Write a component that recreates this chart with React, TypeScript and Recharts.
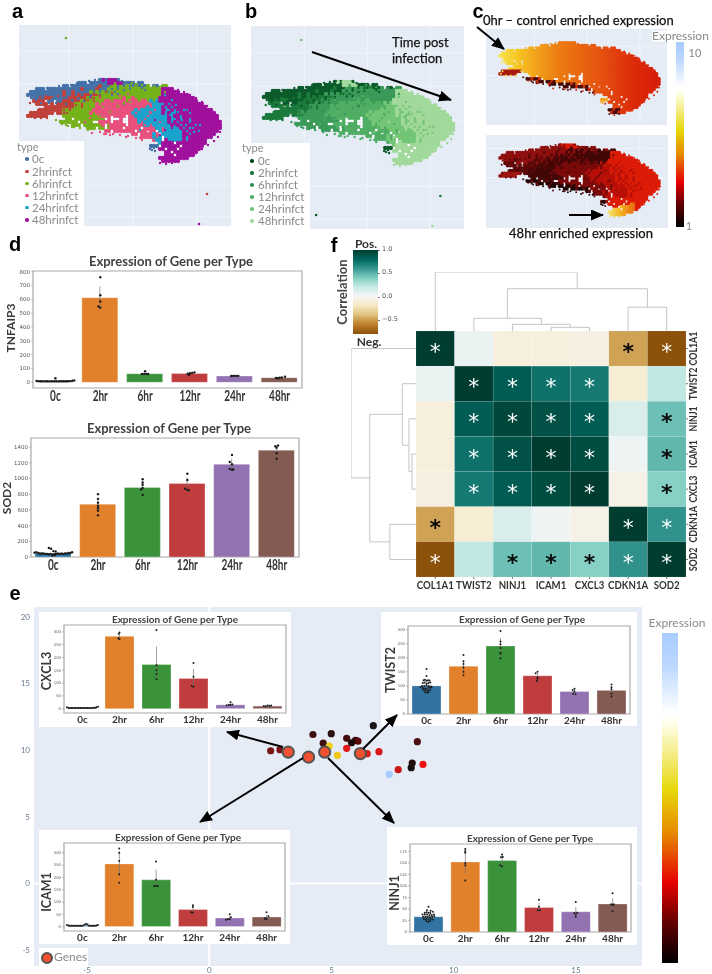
import React from "react";
import {
  ComposedChart, ScatterChart, LineChart, Line, Bar, Cell, Scatter, XAxis, YAxis,
  CartesianGrid, ErrorBar, ReferenceArea, ReferenceLine,
} from "recharts";

/* ---------- UMAP cell map: one letter per small patch of the embedding.
   b 0c, r 2hr, g 6hr, p 12hr, c 24hr, m 48hr, w gap, . empty ---------- */
const cellRows = [
  ".......... .......... ....bmbmmm b......... .......... .......... .....",
  ".......... .......bbb .bbbbbbmmg mmbbbb.bb. .......... .......... .....",
  ".......... ..bb.bbbbb bbbbrbbbgg bgbggbgbbb g.bb.gg... .......... .....",
  "...bbb.bbb bbbbbbbbrb bbbrbbbgbg bgggbggggg gggggmmmm. .......... .....",
  ".bbbbbbbbb bbrbbrbbbb bgbgbgbggb gggggggggg gggggmmmmm m......... .....",
  "bbbbbbbbbb bbrbbrbrbr rbrrggggbg gggggggggg gggggmmmmm mmmm...... .....",
  "..bbbbrrbb bbbbrrrbrr grggrggggg ggpggpgggg ggggmmmmmm mmmmmm.... .....",
  "..rrrr.bb. bbrrrbrrgr ggrgggppgp pppgpppgpp gcgcmmmmmm mmmmmmm... .....",
  "...rrrr.r. rrrrrrggrg gggpgppppp ppbppppppp ppccccmcmm mmmmmmmmm. .....",
  "......rrrr rrrrrrggrg gggppgpppp pppppppppp cpcccmcmcm mmmmmmmmmm .....",
  "....rrrrrr rrggrggggg ggpppppppp ppppppcpcc cccccmccmc mmmcmmmmmm mm...",
  ".rrrrrrrr. rrgrgggggg gpgppppppp pppppcpccc cpcccmcmcc mmmmcmmmmm mmm..",
  "rrrrrrr... ..gggggggg ggggppppwp pppwppcccc pccccccmcm mcmmmmmmmm mmmm.",
  ".......... ...ggwgggg ggggggwpww wpwwpppccp cccccccmcc mcmmcmmmmm mmmm.",
  ".......... .ggggggwgg ggwwppppwp ppwwpppcpc ccccpccmcm cmmmcmmmmm mmmmm",
  ".......... .....gggwg gggggpwppp pppwpppppc cpccccccmc mcmmmmcmmm mmmmm",
  ".......... .......... gggwggwgpp ppwpppppwp pppccpcccc cmcmmcmmmm mmmmm",
  ".......... .......... ......ppwp ppppppwppp wppwcpcccc ccmcmmmcmm mmmm.",
  ".......... .......... .......... .....ppwpp ppcpwccccc ccmmcmmmmm mmm..",
  ".......... .......... .......... ........pp ppcpcwcccc ccmcmmmmmm mm...",
  ".......... .......... .......... .......... ..pccwmccc ccmcmmmmmm .....",
  ".......... .......... .......... .......... ....cmmmmw mmmmmmmmmm .....",
  ".......... .......... .......... .......... .bbbwmmmmm mwmmmmmmm. .....",
  ".......... .......... .......... .......... ....mmwmmm wmmmmmmm.. .....",
  ".......... .......... .......... .......... ......mmwm mmmmmmm... .....",
  ".......... .......... .......... .......... ......mmmw mmmmmm.... .....",
  ".......... .......... .......... .......... ....mmmmmm mmmm...... .....",
  ".......... .......... .......... .......... .....mmmmm m......... .....",
];
const cellU0 = 28, cellV0 = 80, cellStep = 3;
const umapCells = cellRows.flatMap((row, r) =>
  row.replace(/ /g, "").split("").map((k, c) => ({ k, c, r, u: cellU0 + c * cellStep, v: cellV0 + r * cellStep })).filter((d) => d.k !== ".")
);
/* single cells lying off the patch grid, per type */
const stray0 = [[130,86],[136,85],[142,88],[109,92],[118,94],[124,90],[152,150],[154,148],[151,147],[155,151],[153,146],[60,102],[66,104],[72,100],[90,97],[100,95],[78,99],[84,101],[145,90],[150,149],[30,95],[33,92],[37,90],[43,89],[47,88],[53,88],[59,86],[65,86],[71,85],[77,83],[83,82],[89,81],[95,80],[101,79],[31,98],[36,100],[41,103],[49,103],[56,103],[122,81],[128,82]];
const stray2 = [[76,105],[82,104],[88,100],[94,98],[70,108],[64,110],[100,96],[106,92],[40,97],[46,96],[58,96],[52,97],[112,93],[58,112],[64,113],[29,116],[35,118],[41,118],[47,118],[53,113],[31,113],[38,110],[34,102],[30,103],[44,105],[57,110]];
const stray6 = [[124,103],[118,106],[110,112],[100,116],[130,102],[150,96],[140,100],[160,94],[108,125],[92,126],[86,126],[80,128],[62,122],[66,125],[72,127],[110,93],[120,90],[56,120],[165,92],[62,124],[68,126],[74,127],[60,121],[88,130],[136,84],[142,85],[148,86],[154,86],[160,87],[132,83]];
const stray12 = [[112,115],[100,98],[120,96],[144,100],[128,94],[150,105],[155,110],[145,125],[148,130],[150,112],[104,134],[110,135],[140,138],[126,137],[85,122],[90,118],[96,112],[92,133],[100,132],[106,134],[113,134],[120,135],[128,136],[136,138],[142,140]];
const stray24 = [[170,115],[176,105],[182,120],[186,125],[175,135],[190,128],[165,95],[194,132],[150,100],[140,130],[158,105],[178,112],[200,125],[172,100],[184,110]];
const stray48 = [[165,130],[170,118],[180,128],[176,125],[170,142],[185,135],[160,135],[155,120],[165,110],[172,128],[104,80],[108,80],[112,80],[116,81],[166,88],[172,89],[178,90],[184,92],[190,95],[196,98],[202,102],[207,106],[211,110],[215,115],[218,120],[220,126],[220,132],[218,137],[214,141],[208,145],[202,149],[196,153],[190,156],[184,159],[178,161],[172,163],[166,164],[160,163]];
const strayByType = [stray0, stray2, stray6, stray12, stray24, stray48];
const _ = null;
const edgeTop = [_,_,_,_,_,118,119,120,122,123,125,125,126,127,127,128,129,130,131,135,138,145,157,158,157];
const armCols = 10;
const armRows = [11, 12];
const tipTop = [_,_,_,_,_,_,_,_,_,_,_,_,_,_,_,_,_,_,_,_,_,_,156,155,154,152,150,147];
const tipBot = [_,_,_,_,_,_,_,_,_,_,_,_,_,_,_,_,_,_,_,_,_,_,165,166,165,163,160,158];
const spotCells = [[152,143],[152,146],[155,146],[149,149],[152,149]];
const outliers = [[66,38,2],[207,194,1],[81,213,0],[199,224,5]];
const umapTypes = ["0c","2hrinfct","6hrinfct","12hrinfct","24hrinfct","48hrinfct"];
const cellKeys = ["b","r","g","p","c","m"];
const paletteA = ["#4472a8","#c0403a","#75b21a","#e8507c","#1aa3cc","#a0109c"];
const paletteB = ["#0b5a2a","#1a7a3c","#3a9a58","#4fae64","#72c575","#a1d99b"];
const legendB = ["#00441b","#17763a","#2e9150","#4daf62","#72c575","#a1d99b"];
const outlierB = ["#0b5a2a","#17763a","#7fc07f","#4aab60","#72c575","#a1d99b"];
const paletteCLow = ["#8f0f0f","#5a0909","#430707","#7a0a0a","#b81008","#dc1c06"];
const heatTopStops: [number, string][] = [[30,"#f7e24a"],[50,"#f6c422"],[70,"#f2a51c"],[100,"#ec7c12"],[150,"#e55210"],[190,"#dd2a0a"],[225,"#d41c08"]];
const tipStops: [number, string][] = [[160,"#f6e36a"],[175,"#f4b020"],[195,"#ea5a10"]];
const umapGridX = [69,133,197];
const umapGridY = [51,84,118,184,217];

/* ---------- bar charts ---------- */
const categories = ["0c","2hr","6hr","12hr","24hr","48hr"];
const barColors = ["#3274a1","#e1812c","#3a923a","#c03d3e","#9372b2","#845b53"];
const rowOffsets = [-.42,-.38,-.34,-.3,-.26,-.22,-.18,-.14,-.1,-.06,-.02,.02,.06,.1,.14,.18,.22,.26,.3,.34,.38,.42];

const tnfValues = [8,612,62,63,46,33];
const tnfErr = [[1,1],[65,82],[5,8],[5,5],[1,1],[3,3]];
const tnfRow = [10,9,8,8,7,8,8,7,8,7,8,8,7,8,8,8,8,8,9,9,11,13];
const tnfDots = [[0,30],[1,760],[1,630],[1,585],[.96,548],[1,540],[2,80],[1.93,60],[1.98,60],[2.03,60],[2.07,60],[2.98,55],[2.95,62],[3,66],[3.05,68],[3.1,72],[3.92,46],[3.96,47],[4,47],[4.04,47],[4.08,47],[4.92,32],[4.96,30],[5,33],[5.05,35],[5.12,40]];

const sodValues = [45,672,885,935,1180,1360];
const sodErr = [[5,5],[70,70],[50,60],[50,80],[50,70],[50,45]];
const sodRow = [55,60,50,45,45,45,40,40,35,40,30,35,40,45,40,45,40,45,45,50,50,60];
const sodDots = [[-.1,115],[-.05,105],[0,75],[.05,70],[-.02,20],[.04,25],[1,800],[1,740],[1,690],[1,650],[1,620],[1,590],[1,530],[2,990],[2,950],[2,920],[2,880],[1.97,860],[2,790],[3,1060],[3,980],[2.95,870],[3,855],[3.03,850],[4,1300],[3.95,1210],[4,1180],[3.95,1120],[4,1110],[4.03,1115],[5.03,1420],[4.97,1410],[5,1390],[5,1320],[5,1250]];

const cxclValues = [3,283,173,118,15,10];
const cxclErr = [[0,0],[8,8],[55,70],[30,37],[3,4],[1,1]];
const cxclRow = [5,3,3,3,3,3,3,3,3,3,3,3,3,3,3,3,3,3,4,4,5,7];
const cxclDots = [[1,298],[.98,293],[.97,275],[1,272],[2,307],[2,170],[2,150],[2,135],[2,115],[3,178],[3,125],[2.95,90],[3,86],[4,25],[3.96,15],[4,14],[4.05,16],[3.9,13],[4.9,10],[5,12],[5.05,11],[5.1,12],[4.95,9]];

const twistValues = [100,170,242,136,80,84];
const twistErr = [[5,5],[22,22],[28,28],[12,10],[8,8],[10,10]];
const twistDots = [[0,160],[0,135],[-.08,120],[-.04,122],[0,118],[.04,120],[.08,119],[-.1,110],[-.05,112],[0,108],[.05,110],[.1,112],[-.12,100],[-.06,100],[0,102],[.06,100],[.12,98],[-.16,95],[-.1,92],[-.04,90],[.02,92],[.08,93],[.14,95],[-.08,85],[-.02,84],[.04,84],[.1,86],[-.04,77],[.02,76],[.06,78],[1,210],[1,188],[1,178],[1,165],[1,150],[1,138],[2,295],[2,258],[2,248],[2,235],[2,218],[2,215],[2,198],[3,150],[2.95,145],[3,130],[3,125],[2.98,117],[4,90],[3.95,85],[4,80],[3.96,72],[4.03,70],[5,105],[5,95],[5,88],[5,72],[5,62]];

const icamValues = [5,255,190,69,35,39];
const icamErr = [[1,1],[50,50],[25,42],[10,10],[8,8],[8,8]];
const icamRow = [6,4,3,3,3,3,3,3,3,3,3,4,8,10,8,3,3,3,3,3,4,6];
const icamDots = [[1,318],[1,300],[1,267],[1,213],[1,178],[2,265],[2,190],[1.95,165],[2,165],[2.05,165],[3,87],[3,80],[2.95,58],[3,57],[4,50],[4.03,38],[3.95,30],[4,30],[3.9,28],[5,58],[5.05,42],[4.97,35],[5,30],[4.95,32]];

const ninjValues = [33,152,155,53,44,61];
const ninjErr = [[3,3],[25,27],[10,12],[10,10],[10,10],[12,12]];
const ninjDots = [[0,55],[-.04,47],[.06,46],[.12,44],[-.1,42],[-.05,43],[0,42],[.05,41],[-.16,38],[-.1,38],[-.04,38],[.03,37],[.09,37],[.15,38],[-.14,33],[-.08,33],[-.02,33],[.04,32],[.1,33],[.16,34],[-.12,28],[-.06,28],[0,27],[.06,28],[.12,27],[-.06,24],[0,22],[.05,24],[1,180],[1,175],[1,172],[1,150],[1,145],[1,112],[2,168],[1.97,162],[2.02,163],[1.95,145],[2,142],[3,70],[3,55],[2.97,47],[3.03,47],[4,65],[4.04,42],[3.96,41],[4,38],[4,33],[5,84],[4.96,60],[5,58],[5.03,60],[5,45]];

const tick300 = [0,50,100,150,200,250,300];
const tickTnf = [0,100,200,300,400,500,600,700,800];
const tickSod = [0,200,400,600,800,1000,1200,1400];
const tickNinj = [0,25,50,75,100,125,150,175];

/* ---------- correlation heatmap ---------- */
const heatGenes = ["COL1A1","TWIST2","NINJ1","ICAM1","CXCL3","CDKN1A","SOD2"];
const corrRows = [
  [1,.05,-.1,-.1,-.08,-.5,-.8],
  [.05,1,.85,.75,.72,-.13,.22],
  [-.1,.85,.95,.9,.85,.12,.45],
  [-.1,.75,.9,1,.92,.03,.48],
  [-.08,.72,.85,.92,1,-.06,.38],
  [-.5,-.13,.12,.03,-.06,1,.62],
  [-.8,.22,.45,.48,.38,.62,1],
];
const starRows = ["w....bw",".wwww..",".wwww.b",".wwww.b",".wwww.b","b....ww","w.bbbww"];
const brbgStops: [number, string][] = [[-.8,"#8c510a"],[-.6,"#bf812d"],[-.4,"#dfc27d"],[-.2,"#f6e8c3"],[0,"#f5f5f5"],[.2,"#c7eae5"],[.4,"#80cdc1"],[.6,"#35978f"],[.8,"#01665e"],[1,"#003c30"]];
/* dendrogram links: [leaf position, merge distance] */
const dendroLinks = [
  [[3,0],[3,11],[4,11],[4,0]],
  [[2,0],[2,20],[3.5,20],[3.5,11]],
  [[1,0],[1,38],[2.75,38],[2.75,20]],
  [[5,0],[5,71],[6,71],[6,0]],
  [[1.87,38],[1.87,126],[5.5,126],[5.5,71]],
  [[0,0],[0,176],[3.68,176],[3.68,126]],
];
const dendroLeftLinks = [
  [[3,0],[3,12],[4,12],[4,0]],
  [[2,0],[2,21],[3.5,21],[3.5,12]],
  [[1,0],[1,41],[2.75,41],[2.75,21]],
  [[5,0],[5,78],[6,78],[6,0]],
  [[1.87,41],[1.87,138],[5.5,138],[5.5,78]],
  [[0,0],[0,194],[3.68,194],[3.68,138]],
];

/* ---------- gene scatter, panel e ---------- */
const geneBg = [
  [2.51,9.96,"#7a1515"],[2.89,10.04,"#7a1515"],[4.24,11.18,"#3f0f10"],[4.99,11.24,"#2a0d0d"],[4.66,10.53,"#3f1010"],
  [4.91,10.31,"#f0d020"],[5.24,9.61,"#f0c818"],[5.62,10.14,"#e01818"],[5.62,10.89,"#400c0c"],[5.98,10.74,"#2a0808"],
  [6.08,10.68,"#5a0808"],[5.82,10.56,"#1a0a0a"],[6.71,11.84,"#181418"],[6.94,9.89,"#d81818"],[6.46,9.74,"#e01818"],
  [8.51,10.64,"#4a0f10"],[8.74,8.93,"#f01010"],[8.30,9.03,"#250808"],[8.26,8.69,"#181010"],[7.73,8.54,"#c81818"],[7.36,8.18,"#a8ccff"],
];
const geneMarked = [[3.23,9.86],[4.06,9.48],[4.72,9.86],[6.18,9.75]];
const eTicksX = [-5,0,5,10,15];
const eTicksY = [-5,0,5,10,15,20];

const expressionGradient = "linear-gradient(to bottom,#a8ccff 0%,#bcd8ff 10%,#ffffff 24%,#fffff0 27%,#e8d80c 47.5%,#e68a00 60.6%,#e60000 75.8%,#600000 88%,#000000 100%)";

const LATO = "Lato, sans-serif";

function T({ x, y, children, size = 11, color = "#444", weight = 400, family = LATO, rotate = 0, anchor = "middle", bg, stroke }: any) {
  const tx = anchor === "start" ? "0" : "-50%";
  return (
    <div style={{ position: "absolute", left: x, top: y, transform: `translate(${tx},-50%) rotate(${rotate}deg)`, fontSize: size, color, fontWeight: weight, fontFamily: family, whiteSpace: "nowrap", lineHeight: 0.9, background: bg, WebkitTextStroke: stroke }}>
      {children}
    </div>
  );
}

const hit = (color: string, r: number) => (p: any) => <circle cx={p.cx} cy={p.cy} r={r} fill={color} />;
const hex = (s: string) => [1, 3, 5].map((i) => parseInt(s.slice(i, i + 2), 16));
function ramp(stops: [number, string][], v: number) {
  if (v <= stops[0][0]) return stops[0][1];
  for (let i = 0; i < stops.length - 1; i++) {
    const [a, ca] = stops[i], [b, cb] = stops[i + 1];
    if (v <= b) {
      const t = (v - a) / (b - a);
      const A = hex(ca), B = hex(cb);
      return `rgb(${A.map((x, j) => Math.round(x + (B[j] - x) * t)).join(",")})`;
    }
  }
  return stops[stops.length - 1][1];
}

const colIndex = (u: number) => Math.round((u - 28) / 6);
const isEdge = (d: any) => { const e = edgeTop[colIndex(d.u)]; return e != null && d.v >= e; };
const isArm = (d: any) => d.k === "r" && d.c < armCols && armRows.includes(d.r);
const isTip = (d: any) => { const i = colIndex(d.u); return tipTop[i] != null && d.v >= (tipTop[i] as number) && d.v <= (tipBot[i] as number); };
const isSpot = (d: any) => spotCells.some(([u, v]) => Math.abs(u - d.u) < 3 && Math.abs(v - d.v) < 3);

const colorTop = (d: any) => {
  if (d.k === "w") return "#ffffff";
  if (isArm(d)) return "#a81a10";
  if (isSpot(d)) return "#f2a61c";
  if (isEdge(d)) return (d.c + d.r) % 3 === 0 ? "#c83010" : "#4a0c08";
  return ramp(heatTopStops, d.u);
};
const colorLow = (d: any) => {
  if (d.k === "w") return "#ffffff";
  if (isTip(d)) return ramp(tipStops, d.u);
  if (isArm(d)) return "#a01510";
  if (isEdge(d)) return (d.c + d.r) % 3 === 0 ? "#5a0a08" : "#200505";
  return paletteCLow[cellKeys.indexOf(d.k)];
};

function UmapFrame({ left, top, width, height, dx, dy, children }: any) {
  const gridX = umapGridX.filter((v) => v > dx[0] && v < dx[1]);
  const gridY = umapGridY.filter((v) => v > dy[0] && v < dy[1]);
  return (
    <div style={{ position: "absolute", left, top, filter: "blur(0.45px)" }}>
      <ScatterChart width={width} height={height} margin={{ top: 0, right: 0, bottom: 0, left: 0 }} style={{ background: "#e5ecf6" }}>
        <CartesianGrid stroke="#f1f4fb" strokeWidth={1} verticalValues={gridX} horizontalValues={gridY} />
        <XAxis dataKey="u" type="number" domain={dx} hide allowDataOverflow />
        <YAxis dataKey="v" type="number" domain={dy} reversed hide allowDataOverflow />
        {children}
      </ScatterChart>
    </div>
  );
}

function UmapTyped({ palette, outlierColors, ...frame }: any) {
  return (
    <UmapFrame {...frame}>
      {cellKeys.map((k, i) => (
        <Scatter key={k} name={umapTypes[i]} data={umapCells.filter((d) => d.k === k)} isAnimationActive={false} shape={hit(palette[i], 2.15)} />
      ))}
      <Scatter name="gap" data={umapCells.filter((d) => d.k === "w")} isAnimationActive={false} shape={hit("#ffffff", 1.2)} />
      {cellKeys.map((k, i) => (
        <Scatter key={`s${k}`} data={strayByType[i].map(([u, v]) => ({ u, v }))} isAnimationActive={false} shape={hit(palette[i], 1.2)} />
      ))}
      {outliers.map(([u, v, c]) => (
        <Scatter key={`o${u}`} data={[{ u, v }]} isAnimationActive={false} shape={hit(outlierColors[c], 1.3)} />
      ))}
    </UmapFrame>
  );
}

function UmapHeat({ color, ...frame }: any) {
  const pts = umapCells.map((d) => ({ ...d, fill: color(d) }));
  const fringe = strayByType.flatMap((list, i) =>
    list.map(([u, v]) => ({ u, v, k: cellKeys[i], c: u, r: v })).map((d) => ({ ...d, fill: color(d) }))
  );
  return (
    <UmapFrame {...frame}>
      <Scatter data={pts} isAnimationActive={false} shape={(p: any) => <circle cx={p.cx} cy={p.cy} r={p.payload.k === "w" ? 1 : 1.9} fill={p.payload.fill} />} />
      <Scatter data={fringe} isAnimationActive={false} shape={(p: any) => <circle cx={p.cx} cy={p.cy} r={1} fill={p.payload.fill} />} />
    </UmapFrame>
  );
}

function TypeLegend({ x, dotX, ys, typeX, typeY, colors, boxL, boxT, boxW, boxH }: any) {
  return (
    <>
      <div style={{ position: "absolute", left: boxL, top: boxT, width: boxW, height: boxH, background: "#fff" }} />
      <T x={typeX} y={typeY} size={11} color="#8a8a8a" anchor="start">type</T>
      {umapTypes.map((t, i) => (
        <React.Fragment key={t}>
          <div style={{ position: "absolute", left: dotX - 1.8, top: ys[i] - 1.8, width: 3.6, height: 3.6, borderRadius: "50%", background: colors[i] }} />
          <T x={x} y={ys[i]} size={11.5} color="#8a8a8a" anchor="start">{t}</T>
        </React.Fragment>
      ))}
    </>
  );
}

const CondTick = ({ x, y, label, size, weight, sx, fill = "#333" }: any) => (
  <g transform={`translate(${x},${y})`}>
    <text transform={`scale(${sx},1)`} textAnchor="middle" dy=".74em" fontSize={size} fontFamily={LATO} fontWeight={weight} fill={fill}>{label}</text>
  </g>
);

function GeneBars({ rect, box, values, err, row, dots, domain, ticks, tickSize, catSize, catWeight, catSx, catMargin, barW, dotR, title, titleSize, titleX, titleY, gene, geneX, geneY, geneSize, bg }: any) {
  const table = categories.map((cat, i) => ({ cat, value: values[i], err: err[i] }));
  const swarm = [...(row ? row.map((y: number, i: number) => ({ pos: rowOffsets[i], y })) : []), ...dots.map(([x, y]: number[]) => ({ pos: x, y }))];
  return (
    <>
      <div style={{ position: "absolute", left: rect.l, top: rect.t }}>
        <ComposedChart width={rect.r - rect.l} height={rect.b - rect.t} data={table} barCategoryGap="20%" margin={{ top: box.t - rect.t, right: rect.r - box.r, bottom: 0, left: 0 }} style={{ background: bg }}>
          <XAxis xAxisId="cat" dataKey="cat" type="category" interval={0} height={rect.b - box.b} axisLine={false} tickLine={false} tickSize={0} tickMargin={catMargin}
            tick={(p: any) => <CondTick x={p.x} y={p.y} label={p.payload.value} size={catSize} weight={catWeight} sx={catSx} />} />
          <XAxis xAxisId="num" dataKey="pos" type="number" domain={[-.5, 5.5]} hide allowDataOverflow />
          <YAxis type="number" dataKey="y" domain={domain} ticks={ticks} interval={0} allowDataOverflow width={box.l - rect.l} axisLine={false} tickSize={2} tickLine={{ stroke: "#888", strokeWidth: .5 }} tickMargin={1} tick={{ fontSize: tickSize, fontFamily: "'DejaVu Sans', sans-serif", fill: "#555" }} />
          <Bar xAxisId="cat" dataKey="value" barSize={barW} isAnimationActive={false}>
            {table.map((d, i) => <Cell key={i} fill={barColors[i]} stroke="rgba(255,255,255,.3)" strokeWidth={1} />)}
            <ErrorBar dataKey="err" width={0} stroke="#777" strokeWidth={.7} isAnimationActive={false} />
          </Bar>
          <Scatter xAxisId="num" data={swarm} dataKey="y" isAnimationActive={false} shape={hit("#1c1c1c", dotR)} />
          <ReferenceArea xAxisId="num" x1={-.5} x2={5.5} y1={domain[0]} y2={domain[1]} fill="none" stroke="#a8a8a8" strokeWidth={1.2} ifOverflow="visible" />
        </ComposedChart>
      </div>
      <T x={titleX} y={titleY} size={titleSize} weight={700} color="#404040">{title}</T>
      <T x={geneX} y={geneY} size={geneSize} weight={700} color="#3a3a3a" rotate={-90}>{gene}</T>
    </>
  );
}

const heatCells = corrRows.flatMap((r, y) => r.map((c, x) => ({ x, y, c, s: starRows[y][x] })));

function HeatCell(p: any) {
  const w = 38.57, h = 35.2;
  const { cx, cy, payload } = p;
  const s = payload.s;
  return (
    <g>
      <rect x={cx - w / 2} y={cy - h / 2} width={w} height={h} fill={ramp(brbgStops, payload.c)} stroke="rgba(255,255,255,.22)" strokeWidth={.5} />
      {s !== "." && (
        <text x={cx} y={cy + 10.5} textAnchor="middle" fontSize={22} fontWeight={s === "b" ? 700 : 400} fontFamily="'DejaVu Sans', sans-serif" fill={s === "b" ? "#0a0a0a" : "#ffffff"}>*</text>
      )}
    </g>
  );
}

function Heatmap() {
  return (
    <div style={{ position: "absolute", left: 416, top: 331 }}>
      <ScatterChart width={290} height={260} margin={{ top: 0, right: 0, bottom: 0, left: 0 }}>
        <XAxis dataKey="x" type="number" domain={[-.5, 6.5]} ticks={[0,1,2,3,4,5,6]} interval={0} allowDataOverflow height={14} axisLine={false} tickSize={2} tickLine={{ stroke: "#777" }} tickMargin={1}
          tick={(p: any) => <CondTick x={p.x} y={p.y} label={heatGenes[p.payload.value]} size={11.5} weight={700} sx={.84} />} />
        <YAxis dataKey="y" type="number" orientation="right" reversed domain={[-.5, 6.5]} ticks={[0,1,2,3,4,5,6]} interval={0} allowDataOverflow width={20} axisLine={false} tickSize={2} tickLine={{ stroke: "#777" }} tickMargin={5}
          tick={(p: any) => (
            <g transform={`translate(${p.x},${p.y}) rotate(-90)`}>
              <text transform="scale(.8,1)" textAnchor="middle" dy=".36em" fontSize={11} fontFamily={LATO} fontWeight={700} fill="#333">{heatGenes[p.payload.value]}</text>
            </g>
          )} />
        <Scatter data={heatCells} isAnimationActive={false} shape={HeatCell} />
      </ScatterChart>
    </div>
  );
}

function DendroTop() {
  return (
    <div style={{ position: "absolute", left: 416, top: 272 }}>
      <LineChart width={270} height={59} margin={{ top: 0, right: 0, bottom: 0, left: 0 }}>
        <XAxis dataKey="p" type="number" domain={[-.5, 6.5]} hide allowDataOverflow />
        <YAxis type="number" domain={[0, 176]} hide allowDataOverflow />
        {dendroLinks.map((l, i) => (
          <Line key={i} data={l.map(([p, d]) => ({ p, d }))} dataKey="d" stroke="#c4c4c4" strokeWidth={1} dot={false} activeDot={false} type="linear" isAnimationActive={false} />
        ))}
      </LineChart>
    </div>
  );
}

function DendroLeft() {
  return (
    <div style={{ position: "absolute", left: 351, top: 331 }}>
      <LineChart width={65} height={246} margin={{ top: 0, right: 0, bottom: 0, left: 0 }}>
        <XAxis dataKey="d" type="number" domain={[0, 194]} reversed hide allowDataOverflow />
        <YAxis type="number" domain={[-.5, 6.5]} reversed hide allowDataOverflow />
        {dendroLeftLinks.map((l, i) => (
          <Line key={i} data={l.map(([p, d]) => ({ p, d }))} dataKey="p" stroke="#c4c4c4" strokeWidth={1} dot={false} activeDot={false} type="linear" isAnimationActive={false} />
        ))}
      </LineChart>
    </div>
  );
}

function GenePanel() {
  const bgPts = geneBg.map(([x, y, c]) => ({ x, y, c }));
  const marked = geneMarked.map(([x, y]) => ({ x, y }));
  return (
    <div style={{ position: "absolute", left: 0, top: 600 }}>
      <ScatterChart width={642} height={374} margin={{ top: 7, right: 0, bottom: 0, left: 0 }}>
        <rect x={34} y={7} width={608} height={359} fill="#e5ecf6" />
        <CartesianGrid stroke="#ffffff" strokeWidth={1.3} verticalValues={eTicksX} horizontalValues={eTicksY} />
        <XAxis dataKey="x" type="number" domain={[-7.17, 17.7]} ticks={eTicksX} interval={0} allowDataOverflow height={8} axisLine={false} tickLine={false} tickSize={0} tickMargin={1} tick={{ fontSize: 8, fill: "#6a7a90", fontFamily: LATO }} />
        <YAxis dataKey="y" type="number" domain={[-6.2, 20.75]} ticks={eTicksY} interval={0} allowDataOverflow width={34} axisLine={false} tickLine={false} tickSize={0} tickMargin={4} tick={{ fontSize: 8, fill: "#6a7a90", fontFamily: LATO }} />
        <ReferenceLine x={0} stroke="#fff" strokeWidth={2} />
        <ReferenceLine y={0} stroke="#fff" strokeWidth={2} />
        <Scatter data={bgPts} isAnimationActive={false} shape={(p: any) => <circle cx={p.cx} cy={p.cy} r={3.6} fill={p.payload.c} />} />
        <Scatter data={marked} isAnimationActive={false} shape={(p: any) => <circle cx={p.cx} cy={p.cy} r={5.6} fill="#f2512f" stroke="#555" strokeWidth={2} />} />
      </ScatterChart>
    </div>
  );
}

const arrows = [
  [312,52,451,100],[477,27,504,49],[569,215,603,215],
  [283,747,227,732],[303,758,200,822],[328,758,394,823],[363,749,397,715],
];

const insetCommon = { catSize: 10, catWeight: 700, catSx: 1, catMargin: 3, tickSize: 3.8, dotR: 1, title: "Expression of Gene per Type", titleSize: 10, geneSize: 12.5, bg: "#ffffff" };
const paneCommon = { catSize: 15, catWeight: 700, catSx: .67, catMargin: 2, tickSize: 5.5, dotR: 1.2, barW: 36, title: "Expression of Gene per Type", titleSize: 13, geneSize: 12, bg: "transparent" };

export default function App() {
  return (
    <div style={{ position: "absolute", left: 0, top: 0, width: 712, height: 974, overflow: "hidden", background: "#fff", filter: "blur(0.3px)" }}>
      {/* panel a */}
      <UmapTyped left={19} top={25} width={212} height={201} dx={[19, 231]} dy={[25, 226]} palette={paletteA} outlierColors={paletteA} />
      <TypeLegend boxL={0} boxT={141} boxW={84} boxH={86} typeX={17} typeY={147} x={32} dotX={27} ys={[159,171.5,183.5,195.5,207.5,220]} colors={paletteA} />

      {/* panel b */}
      <UmapTyped left={251} top={26} width={213} height={203} dx={[15, 231]} dy={[24, 227]} palette={paletteB} outlierColors={outlierB} />
      <TypeLegend boxL={238} boxT={143} boxW={72} boxH={87} typeX={242} typeY={148} x={258} dotX={252} ys={[161,173,185,197,209,221]} colors={legendB} />

      {/* panel c */}
      <UmapHeat left={486} top={29} width={181} height={96} dx={[11, 229.7]} dy={[63.7, 175.7]} color={colorTop} />
      <UmapHeat left={486} top={135} width={182} height={93} dx={[11, 231]} dy={[68.3, 176.8]} color={colorLow} />
      <div style={{ position: "absolute", left: 676, top: 42, width: 8, height: 185, background: expressionGradient }} />
      <T x={652} y={36} size={12} color="#8a8a8a" anchor="start" bg="#fff">Expression</T>
      <T x={695} y={53} size={11} color="#888">10</T>
      <T x={689} y={226} size={11} color="#888">1</T>

      {/* panel d */}
      <GeneBars {...paneCommon} rect={{ l: 8, t: 265, r: 306, b: 410 }} box={{ l: 33, t: 271, r: 302, b: 388 }} values={tnfValues} err={tnfErr} row={tnfRow} dots={tnfDots} domain={[-41, 805]} ticks={tickTnf} titleX={171} titleY={262} gene="TNFAIP3" geneX={11} geneY={328} />
      <GeneBars {...paneCommon} rect={{ l: 6, t: 432, r: 303, b: 578 }} box={{ l: 31, t: 438, r: 299, b: 557 }} values={sodValues} err={sodErr} row={sodRow} dots={sodDots} domain={[0, 1515]} ticks={tickSod} titleX={169} titleY={429} gene="SOD2" geneX={7} geneY={498} />

      {/* panel f */}
      <DendroTop />
      <DendroLeft />
      <Heatmap />
      <div style={{ position: "absolute", left: 353, top: 250, width: 25, height: 84, background: "linear-gradient(to bottom,#003c30 0%,#01665e 11%,#35978f 22%,#80cdc1 33%,#c7eae5 44%,#f5f5f5 55%,#f6e8c3 66%,#dfc27d 77%,#bf812d 88%,#8c510a 100%)" }} />
      {[["1.0",250],["0.5",273],["0.0",296.7],["\u22120.5",319.7]].map(([t, y]: any) => (
        <React.Fragment key={t}>
          <div style={{ position: "absolute", left: 378, top: y, width: 2, height: 1, background: "#777" }} />
          <T x={382} y={y} size={6.5} color="#555" family="'DejaVu Sans', sans-serif" anchor="start">{t}</T>
        </React.Fragment>
      ))}
      <T x={343} y={292} size={13} weight={700} color="#444" rotate={-90}>Correlation</T>
      <T x={366} y={244} size={12} weight={700} color="#333">Pos.</T>
      <T x={369} y={342} size={12} weight={700} color="#333">Neg.</T>

      {/* panel e */}
      <GenePanel />
      <GeneBars {...insetCommon} rect={{ l: 39, t: 612, r: 291, b: 727 }} box={{ l: 64, t: 625, r: 286, b: 713 }} values={cxclValues} err={cxclErr} row={cxclRow} dots={cxclDots} domain={[-17, 327]} ticks={tick300} barW={29} titleX={175} titleY={619} gene="CXCL3" geneX={47} geneY={671} />
      <GeneBars {...insetCommon} rect={{ l: 381, t: 612, r: 637, b: 726 }} box={{ l: 408, t: 626, r: 630, b: 714 }} values={twistValues} err={twistErr} dots={twistDots} domain={[0, 313]} ticks={tick300} barW={29} titleX={522} titleY={619} gene="TWIST2" geneX={391} geneY={670} />
      <GeneBars {...insetCommon} rect={{ l: 39, t: 830, r: 290, b: 944 }} box={{ l: 64, t: 843, r: 285, b: 931 }} values={icamValues} err={icamErr} row={icamRow} dots={icamDots} domain={[-18, 340]} ticks={tick300} barW={29} titleX={178} titleY={837} gene="ICAM1" geneX={47} geneY={892} />
      <GeneBars {...insetCommon} rect={{ l: 387, t: 827, r: 637, b: 945 }} box={{ l: 410, t: 844, r: 631, b: 932 }} values={ninjValues} err={ninjErr} dots={ninjDots} domain={[0, 191]} ticks={tickNinj} barW={29} titleX={530} titleY={838} gene="NINJ1" geneX={395} geneY={893} />

      <div style={{ position: "absolute", left: 39, top: 948, width: 49, height: 18, background: "#fff" }} />
      <div style={{ position: "absolute", left: 41, top: 952, width: 8, height: 8, borderRadius: "50%", background: "#f2512f", border: "2px solid #555" }} />
      <T x={54} y={957} size={12} color="#8a8a8a" anchor="start">Genes</T>
      <div style={{ position: "absolute", left: 662, top: 633, width: 16, height: 330, background: expressionGradient }} />
      <T x={677} y={623} size={12} color="#8a8a8a">Expression</T>

      {/* annotations */}
      <svg width={712} height={974} style={{ position: "absolute", left: 0, top: 0, pointerEvents: "none" }}>
        <defs>
          <marker id="head" markerUnits="userSpaceOnUse" markerWidth="13" markerHeight="11" refX="12" refY="5.5" orient="auto">
            <path d="M0,0 L13,5.5 L0,11 Z" fill="#000" />
          </marker>
        </defs>
        {arrows.map(([x1, y1, x2, y2], i) => (
          <line key={i} x1={x1} y1={y1} x2={x2} y2={y2} stroke="#000" strokeWidth={2} markerEnd="url(#head)" />
        ))}
      </svg>
      <T x={392} y={43} size={13} color="#111" anchor="start" stroke="0.25px #111">Time post</T>
      <T x={392} y={59} size={13} color="#111" anchor="start" stroke="0.25px #111">infection</T>
      <T x={483} y={21} size={13} color="#111" anchor="start" stroke="0.25px #111">0hr – control enriched expression</T>
      <T x={581} y={234} size={13} color="#111" stroke="0.25px #111">48hr enriched expression</T>
      {[["a",17.5,11],["b",251,11],["c",478,11],["d",15,244],["e",15,593],["f",334,245]].map(([t, x, y]: any) => (
        <T key={t} x={x} y={y} size={20} weight={700} color="#000" family="'Liberation Sans', sans-serif">{t}</T>
      ))}
    </div>
  );
}
